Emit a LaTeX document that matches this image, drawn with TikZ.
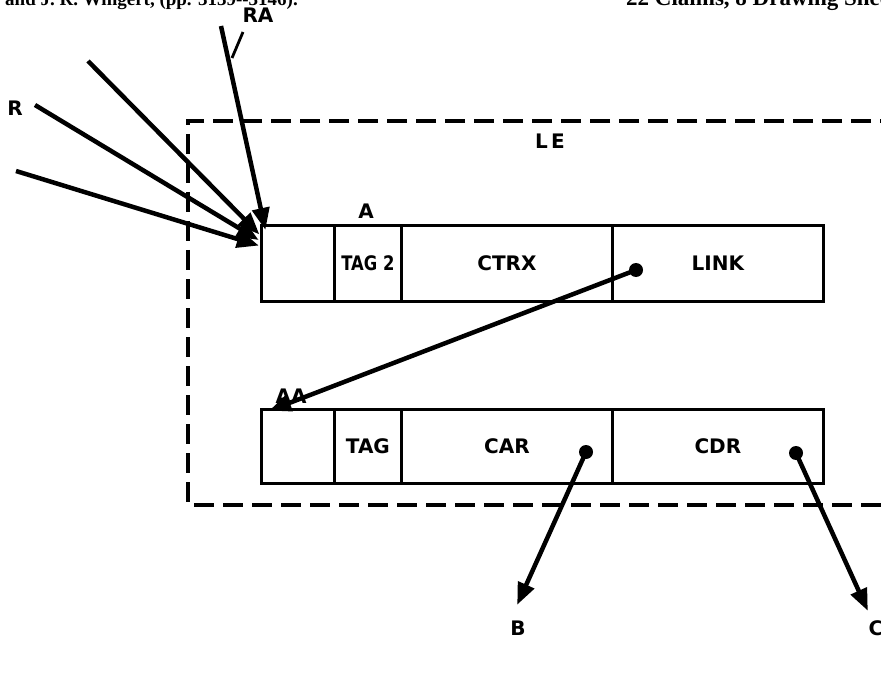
\documentclass[tikz,border=0pt]{standalone}
\usepackage{fontspec}
\setmainfont{Liberation Sans}
\newfontfamily\hdrfont{Liberation Serif}
\newfontfamily\lblfont{DejaVu Sans}
\usetikzlibrary{arrows.meta}
\tikzset{
  cell/.style={draw, line width=2.8pt, minimum height=76pt, inner sep=0pt, anchor=north west, font=\lblfont\bfseries\fontsize{20}{22}\selectfont},
  lbl/.style={font=\lblfont\bfseries\fontsize{20}{22}\selectfont, inner sep=0pt},
  ptr/.style={line width=4.5pt, -{Triangle[length=22pt,width=17pt]}, shorten >=-2pt},
  dotc/.style={circle, fill, inner sep=0pt, minimum size=14pt},
  boundary/.style={line width=3.8pt, dash pattern=on 20pt off 9pt},
  hdr/.style={font=\hdrfont\bfseries\fontsize{19}{20}\selectfont, inner sep=0pt}
}
\begin{document}
\begin{tikzpicture}[x=1pt,y=-1pt]
\useasboundingbox (0,0) rectangle (881,687);
\clip (0,0) rectangle (881,687);
\fill[white] (0,0) rectangle (881,687);
% header (cropped)
\node[hdr, anchor=base east] (h1) at (298,6) {and J. R. Wingert, (pp. 3139--3146).};
\node[hdr, anchor=base west, font=\hdrfont\bfseries\fontsize{23}{24}\selectfont] (h2) at (626,6) {22 Claims, 8 Drawing Sheets};
% LE boundary
\coordinate (le1) at (900,121);
\coordinate (le2) at (188,121);
\coordinate (le3) at (188,505);
\coordinate (le4) at (900,505);
\draw[boundary] (le1) -- (le2) -- (le3) -- (le4);
\node[lbl] (le) at (550,141) {L\,E};
% record A
\node[cell, minimum width=73pt] (a0) at (260,224) {};
\node[cell, minimum width=67pt] (a1) at (333,224) {\scalebox{0.82}[1]{TAG 2}};
\node[cell, minimum width=211pt] (a2) at (400,224) {CTRX};
\node[cell, minimum width=211pt] (a3) at (611,224) {LINK};
\node[lbl] (alab) at (366,211) {A};
% record AA
\node[cell, minimum width=73pt, minimum height=74pt] (b0) at (260,408) {};
\node[cell, minimum width=67pt, minimum height=74pt] (b1) at (333,408) {TAG};
\node[cell, minimum width=211pt, minimum height=74pt] (b2) at (400,408) {CAR};
\node[cell, minimum width=211pt, minimum height=74pt] (b3) at (611,408) {CDR};
\node[lbl] (aalab) at (291,396) {AA};
% dots
\node[dotc] (d1) at (636,270) {};
\node[dotc] (d2) at (586,452) {};
\node[dotc] (d3) at (796,453) {};
% pointers
\coordinate (aaTip) at (271,410);
\draw[ptr] (d1.center) -- (aaTip);
\coordinate (bTip) at (518,603);
\coordinate (cTip) at (867,609);
\draw[ptr] (d2.center) -- (bTip);
\draw[ptr] (d3.center) -- (cTip);
\node[lbl] (B) at (518,628) {B};
\node[lbl] (C) at (876,628) {C};
% incoming references
\coordinate (r0) at (221,26);
\coordinate (r1) at (88,61);
\coordinate (r2) at (35,105);
\coordinate (r3) at (16,171);
\coordinate (t0) at (265,228);
\coordinate (t1) at (258,233);
\coordinate (t2) at (257,239);
\coordinate (t3) at (257,245);
\draw[ptr] (r0) -- (t0);
\draw[ptr] (r1) -- (t1);
\draw[ptr] (r2) -- (t2);
\draw[ptr] (r3) -- (t3);
\node[lbl] (ra) at (258,15) {RA};
\node[lbl] (R) at (15,108) {R};
\coordinate (tk1) at (243,32);
\coordinate (tk2) at (232,58);
\draw[line width=2.8pt] (tk1) -- (tk2);
\end{tikzpicture}
\end{document}
